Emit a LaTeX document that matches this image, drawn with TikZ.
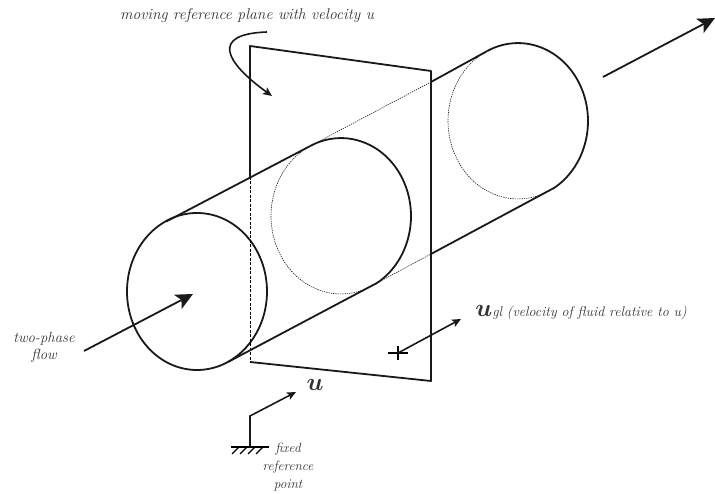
\documentclass[tikz,border=0pt]{standalone}
\usepackage{amsmath, amssymb}
\usepackage{tikz}
\usepackage{xcolor}
\usetikzlibrary{positioning, arrows.meta, shapes.geometric, calc}

\begin{document}
\begin{tikzpicture}[
    x=1pt,
    y=1pt,
    font=\fontsize{14.7}{17}\selectfont\itshape,
    label/.style={text=black!80, align=center, inner sep=0pt},
    wall/.style={line width=1.8pt, black!90},
    hidden/.style={line width=0.6pt, dash pattern=on 1.3pt off 1pt, black!90},
    arrow/.style={-{Stealth[length=9pt, width=8pt, inset=2pt]}, line width=1.6pt, black!90},
    bigarrow/.style={-{Stealth[length=17pt, width=16pt, inset=4pt]}, line width=1.8pt, black!90}
]
\useasboundingbox (0,0) rectangle (715,494);

% cylinder sections
\node[draw, wall, ellipse, minimum width=140pt, minimum height=157pt, inner sep=0pt] (leftdisc) at (197,202.5) {};
\coordinate (lefttop) at (166.3,272.5);
\coordinate (leftbot) at (228,132);
\coordinate (midtop) at (310.3,348);
\coordinate (midbot) at (376,210.5);
\coordinate (righttop) at (487.3,443);
\coordinate (rightbot) at (553,305.5);

\draw[wall] (midtop) arc[start angle=116, end angle=-60, x radius=70, y radius=78];
\draw[hidden] (midbot) arc[start angle=-60, end angle=-244, x radius=70, y radius=78];
\draw[wall] (righttop) arc[start angle=116, end angle=-60, x radius=70, y radius=78];
\draw[hidden] (rightbot) arc[start angle=-60, end angle=-244, x radius=70, y radius=78];

% moving plane
\coordinate (planeA) at (250,448);
\coordinate (planeB) at (431,423);
\coordinate (planeC) at (431,113);
\coordinate (planeD) at (250,132);
\coordinate (planeX) at (250,317);
\draw[wall, line join=round] (planeX) -- (planeA) -- (planeB) -- (planeC) -- (planeD);
\draw[line width=0.8pt, dash pattern=on 3pt off 1.5pt] (planeX) -- (planeD);

% tube outline
\coordinate (crossA) at (431,412);
\coordinate (crossB) at (431,240);
\draw[wall] (lefttop) -- (midtop);
\draw[hidden] (midtop) -- (crossA);
\draw[wall] (crossA) -- (righttop);
\draw[wall] (leftbot) -- (midbot);
\draw[hidden] (midbot) -- (crossB);
\draw[wall] (crossB) -- (rightbot);

% flow arrows
\coordinate (flowin) at (84,143);
\coordinate (flowtip) at (193,200);
\coordinate (flowout) at (603,417);
\coordinate (outtip) at (715,476);
\draw[bigarrow] (flowin) -- (flowtip);
\draw[bigarrow] (flowout) -- (outtip);

% plane label arrow
\coordinate (curvestart) at (267,462);
\coordinate (curvetip) at (272,398);
\draw[arrow] (curvestart) .. controls (210,460) and (225,432) .. (curvetip);

% relative velocity
\coordinate (plusc) at (398,141);
\coordinate (gltip) at (461,175);
\draw[line width=1.3pt] ($(plusc)+(-10,0)$) -- ($(plusc)+(10,0)$);
\draw[line width=1.3pt] ($(plusc)+(0,-7)$) -- ($(plusc)+(0,7)$);
\draw[arrow] (plusc) -- (gltip);

% fixed point
\coordinate (ground) at (250,47);
\coordinate (elbow) at (250,78);
\coordinate (utip) at (296,102);
\draw[arrow] (ground) -- (elbow) -- (utip);
\draw[line width=1.5pt] (231,47) -- (269,47);
\foreach \hx in {232,240,248,256} {
    \draw[line width=1.1pt] (\hx,40) -- ++(7,7);
}

\node[label, font=\fontsize{15.6}{17}\selectfont\itshape] (planelabel) at (247,478) {moving reference plane with velocity u};
\node[label] (flowlabel) at (44,146.5) {two-phase\\flow};
\node[label] (ulabel) at (315,109) {\fontsize{24}{24}\selectfont$\boldsymbol{u}$};
\node[label, font=\fontsize{14}{17}\selectfont\itshape] (gllabel) at (581,181) {\fontsize{23}{23}\selectfont$\boldsymbol{u}$\fontsize{14}{17}\selectfont gl (velocity of fluid relative to u)};
\node[label, font=\fontsize{13.4}{18}\selectfont\itshape] (fixedlabel) at (288,27) {fixed\\reference\\point};

\end{tikzpicture}
\end{document}
